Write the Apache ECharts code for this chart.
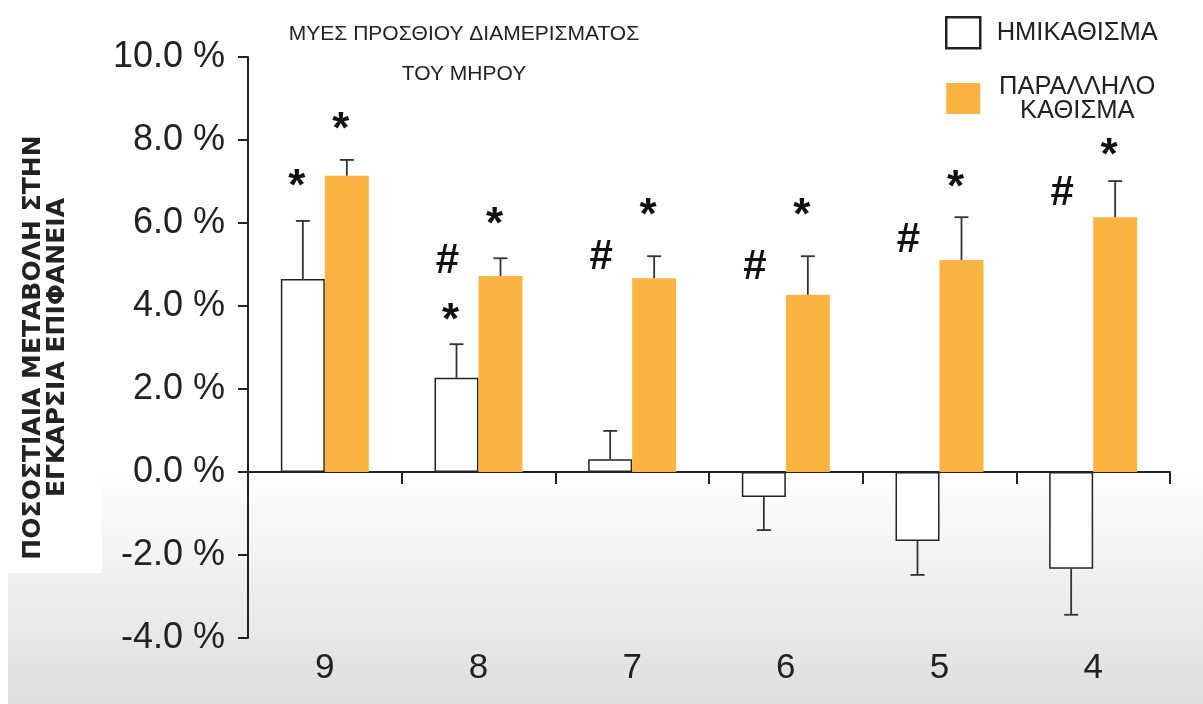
<!DOCTYPE html>
<html>
<head>
<meta charset="utf-8">
<script src="https://cdn.jsdelivr.net/npm/echarts@6/dist/echarts.min.js"></script>
<style>
html,body{margin:0;padding:0;background:#fff;}
#chart{width:1203px;height:704px;}
</style>
</head>
<body>
<div id="chart"></div>
<script>
// ---- data ----
const categories = ['9', '8', '7', '6', '5', '4'];
const seriesNames = ['ΗΜΙΚΑΘΙΣΜΑ', 'ΠΑΡΑΛΛΗΛΟ\nΚΑΘΙΣΜΑ'];
const semiSquat = [4.65, 2.27, 0.31, -0.60, -1.66, -2.33];
const semiSquatSD = [1.40, 0.81, 0.68, 0.80, 0.82, 1.11];
const parallelSquat = [7.14, 4.72, 4.67, 4.27, 5.11, 6.14];
const parallelSquatSD = [0.38, 0.43, 0.53, 0.93, 1.03, 0.87];
const yTicks = { min: -4, max: 10, interval: 2 };
const titleLines = ['ΜΥΕΣ ΠΡΟΣΘΙΟΥ ΔΙΑΜΕΡΙΣΜΑΤΟΣ', 'ΤΟΥ ΜΗΡΟΥ'];
const yAxisName = ['ΠΟΣΟΣΤΙΑΙΑ ΜΕΤΑΒΟΛΗ ΣΤΗΝ', 'ΕΓΚΑΡΣΙΑ ΕΠΙΦΑΝΕΙΑ'];
// significance marks: category index, series (0 = semi, 1 = parallel), value-level
const annotCat   = [0, 0, 1, 1, 1, 2, 2, 3, 3, 4, 4, 5, 5];
const annotSer   = [0, 1, 0, 0, 1, 0, 1, 0, 1, 0, 1, 0, 1];
const annotGlyph = ['*', '*', '#', '*', '*', '#', '*', '#', '*', '#', '*', '#', '*'];
const annotLevel = [7.06, 8.43, 5.08, 3.83, 6.14, 5.16, 6.36, 4.94, 6.36, 5.59, 7.04, 6.72, 7.81];

// ---- styles ----
const BAR_W = 44;
const ORANGE = '#FBB441';
const INK = '#222';
const FONT = 'Liberation Sans, Arial, sans-serif';

const errData = [];
semiSquat.forEach((v, i) => errData.push([i, v, v + Math.sign(v) * semiSquatSD[i], -1]));
parallelSquat.forEach((v, i) => errData.push([i, v, v + Math.sign(v) * parallelSquatSD[i], 1]));
const annotData = annotCat.map((c, i) => [c, annotLevel[i], annotSer[i] === 0 ? -1 : 1]);

const chart = echarts.init(document.getElementById('chart'), null, { renderer: 'canvas' });
chart.setOption({
  backgroundColor: '#ffffff',
  animation: false,
  graphic: {
    elements: [
      {
        type: 'rect', z: -10, silent: true,
        shape: { x: 8, y: 470, width: 1195, height: 234 },
        style: {
          fill: new echarts.graphic.LinearGradient(0, 0, 0, 1, [
            { offset: 0, color: '#ffffff' },
            { offset: 0.12, color: '#fbfbfb' },
            { offset: 1, color: '#dedede' }
          ])
        }
      },
      {
        type: 'rect', z: -9, silent: true,
        shape: { x: 0, y: 0, width: 102, height: 573 },
        style: { fill: '#ffffff' }
      }
    ]
  },
  title: {
    text: titleLines.join('\n'),
    left: 464, top: 14, padding: 0,
    textAlign: 'center',
    textStyle: { fontFamily: FONT, fontSize: 21, fontWeight: 'normal', color: INK, lineHeight: 40 }
  },
  legend: {
    orient: 'vertical', left: 940, top: 11,
    itemWidth: 34, itemHeight: 31, itemGap: 24,
    selectedMode: false,
    icon: 'rect',
    data: [
      { name: seriesNames[0], itemStyle: { color: '#fff', borderColor: INK, borderWidth: 2.5 } },
      { name: seriesNames[1], itemStyle: { color: ORANGE, borderWidth: 0 } }
    ],
    formatter: name => name.split('\n').map(s => '{n|' + s + '}').join('\n'),
    textStyle: {
      fontFamily: FONT, fontSize: 25.5, color: INK,
      rich: { n: { fontFamily: FONT, fontSize: 25.5, color: INK, width: 160, align: 'center', lineHeight: 24, padding: [0, 0, 0, 12] } }
    }
  },
  grid: { left: 248, right: 33, top: 57, bottom: 66, containLabel: false, outerBoundsMode: 'none' },
  xAxis: [
    {
      type: 'category', data: categories, position: 'bottom',
      axisLine: { onZero: true, lineStyle: { color: INK, width: 2 } },
      axisTick: { show: true, length: 12, lineStyle: { color: INK, width: 2 } },
      axisLabel: { show: false },
      splitLine: { show: false }
    },
    {
      type: 'category', data: categories, position: 'bottom',
      axisLine: { show: false, onZero: false },
      axisTick: { show: false },
      axisLabel: { show: true, fontFamily: FONT, fontSize: 35, color: INK, margin: 13 },
      splitLine: { show: false }
    }
  ],
  yAxis: {
    type: 'value', min: yTicks.min, max: yTicks.max, interval: yTicks.interval,
    name: yAxisName.join('\n'), nameLocation: 'middle', nameRotate: 90, nameGap: 179,
    nameTextStyle: { fontFamily: 'DejaVu Sans', fontWeight: 'bold', fontSize: 25, color: INK, lineHeight: 24, align: 'center' },
    axisLine: { show: true, lineStyle: { color: INK, width: 2 } },
    axisTick: { show: true, length: 10, lineStyle: { color: INK, width: 2 } },
    axisLabel: { fontFamily: FONT, fontSize: 36, color: INK, margin: 23, formatter: v => v.toFixed(1) + ' %' },
    splitLine: { show: false }
  },
  series: [
    {
      name: seriesNames[0], type: 'bar', data: semiSquat, barWidth: BAR_W, barGap: '0%', z: 3,
      itemStyle: { color: '#ffffff', borderColor: INK, borderWidth: 1.5 }
    },
    {
      name: seriesNames[1], type: 'bar', data: parallelSquat, barWidth: BAR_W, barGap: '0%', z: 3,
      itemStyle: { color: ORANGE }
    },
    {
      type: 'custom', name: 'sd', data: errData, z: 4, clip: false,
      encode: { x: 0, y: [1, 2] },
      renderItem: (params, api) => {
        const i = api.value(0), v = api.value(1), e = api.value(2), side = api.value(3);
        const p0 = api.coord([i, v]);
        const p1 = api.coord([i, e]);
        const x = p0[0] + side * BAR_W / 2;
        const st = { stroke: '#333', lineWidth: 1.8 };
        return {
          type: 'group',
          children: [
            { type: 'line', shape: { x1: x, y1: p0[1], x2: x, y2: p1[1] }, style: st },
            { type: 'line', shape: { x1: x - 7, y1: p1[1], x2: x + 7, y2: p1[1] }, style: st }
          ]
        };
      }
    },
    {
      type: 'custom', name: 'sig', data: annotData, z: 5, clip: false,
      encode: { x: 0, y: 1 },
      renderItem: (params, api) => {
        const i = api.value(0), lvl = api.value(1), side = api.value(2);
        const g = annotGlyph[params.dataIndex];
        const p = api.coord([i, lvl]);
        const isStar = g === '*';
        return {
          type: 'text',
          x: p[0] + side * BAR_W / 2 + (isStar ? -6 : -9),
          y: p[1] + (isStar ? 9 : 0),
          style: {
            text: g, fill: '#111',
            font: 'bold ' + (isStar ? '44px ' : '42px ') + FONT,
            align: 'center', verticalAlign: 'middle'
          }
        };
      }
    }
  ]
});
</script>
</body>
</html>
